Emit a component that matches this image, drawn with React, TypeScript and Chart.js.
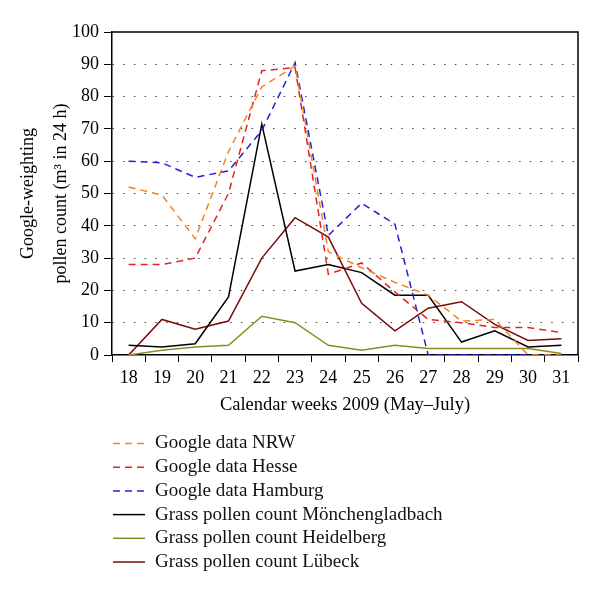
import React, { useEffect, useRef } from 'react';
import { Chart, registerables } from 'chart.js';
Chart.register(...registerables);

const weeks = ['18', '19', '20', '21', '22', '23', '24', '25', '26', '27', '28', '29', '30', '31'];
const googleNRW = [52, 49.5, 36, 63, 83, 89.5, 32, 27, 22.5, 18.5, 10.5, 11, 0, 0];
const googleHesse = [28, 28, 30, 50, 88, 89, 25, 28.5, 19.5, 11, 10, 8.5, 8.5, 7];
const googleHamburg = [60, 59.5, 55, 57, 69.5, 90.5, 37, 47, 40.5, 0, 0, 0, 0, 0];
const grassMoenchengladbach = [3, 2.5, 3.5, 18, 71.5, 26, 28, 25.5, 18.5, 18.5, 4, 7.5, 2.5, 3];
const grassHeidelberg = [0, 1.5, 2.5, 3, 12, 10, 3, 1.5, 3, 2, 2, 2, 2, 0.5];
const grassLuebeck = [0, 11, 8, 10.5, 30, 42.5, 36.5, 16, 7.5, 14.5, 16.5, 9.5, 4.5, 5];

const FONT = "'Liberation Serif', 'Times New Roman', serif";
const DASH = [7, 5];

export default function App() {
  const ref = useRef<HTMLCanvasElement>(null);
  useEffect(() => {
    const mk = (label: string, data: number[], color: string, dashed: boolean) => ({
      label,
      data,
      borderColor: color,
      backgroundColor: color,
      borderWidth: 1.5,
      borderDash: dashed ? DASH : [],
      pointRadius: 0,
      tension: 0,
      fill: false,
    });
    const frame = {
      id: 'frame',
      afterDraw(chart: any) {
        const { ctx, chartArea } = chart;
        ctx.save();
        ctx.strokeStyle = '#000';
        ctx.lineWidth = 1.5;
        ctx.beginPath();
        ctx.moveTo(chartArea.left, chartArea.top);
        ctx.lineTo(chartArea.right, chartArea.top);
        ctx.lineTo(chartArea.right, chartArea.bottom);
        ctx.stroke();
        // legend
        const datasets = chart.data.datasets;
        ctx.font = `19px ${FONT}`;
        ctx.textBaseline = 'middle';
        ctx.textAlign = 'left';
        datasets.forEach((ds: any, i: number) => {
          const y = 443.5 + i * 23.7;
          ctx.save();
          ctx.strokeStyle = ds.borderColor;
          ctx.lineWidth = 1.5;
          ctx.setLineDash(ds.borderDash || []);
          ctx.beginPath();
          ctx.moveTo(113, y);
          ctx.lineTo(145, y);
          ctx.stroke();
          ctx.restore();
          ctx.fillStyle = '#111';
          ctx.fillText(ds.label, 155, y);
        });
        ctx.restore();
      },
    };
    const chart = new Chart(ref.current!, {
      type: 'line',
      data: {
        labels: weeks,
        datasets: [
          mk('Google data NRW', googleNRW, '#F5821F', true),
          mk('Google data Hesse', googleHesse, '#E52222', true),
          mk('Google data Hamburg', googleHamburg, '#2222D2', true),
          mk('Grass pollen count Mönchengladbach', grassMoenchengladbach, '#000000', false),
          mk('Grass pollen count Heidelberg', grassHeidelberg, '#8C8C1E', false),
          mk('Grass pollen count Lübeck', grassLuebeck, '#7A0A0A', false),
        ] as any,
      },
      options: {
        responsive: false,
        animation: false,
        layout: { padding: { top: 32, right: 22, bottom: 175, left: 0 } },
        plugins: { legend: { display: false }, tooltip: { enabled: false } },
        scales: {
          x: {
            offset: true,
            afterFit: (s: any) => { s.height = 66; },
            grid: { offset: true, drawOnChartArea: false, tickLength: 7, tickColor: '#000', tickWidth: 1 },
            border: { display: true, color: '#000', width: 1.5 },
            ticks: { color: '#000', font: { family: FONT, size: 18 }, padding: 5, maxRotation: 0, autoSkip: false },
            title: {
              display: true,
              text: 'Calendar weeks 2009 (May–July)',
              color: '#000',
              font: { family: FONT, size: 18.5 },
              padding: { top: 0, bottom: 5 },
            },
          },
          y: {
            min: 0,
            max: 100,
            afterFit: (s: any) => { s.width = 112; },
            grid: {
              color: (c: any) => (c.tick && (c.tick.value === 0 || c.tick.value === 100) ? 'rgba(0,0,0,0)' : '#444'),
              lineWidth: 1,
              tickLength: 8,
              tickColor: '#000',
              tickWidth: 1,
              tickBorderDash: [],
            },
            border: { display: true, color: '#000', width: 1.5, dash: [1.5, 9.2] },
            ticks: { stepSize: 10, color: '#000', font: { family: FONT, size: 18 }, padding: 5 },
            title: {
              display: true,
              text: ['Google-weighting', 'pollen count (m³ in 24 h)'],
              color: '#000',
              font: { family: FONT, size: 18, lineHeight: 1.83 },
              padding: { top: 12, bottom: 0 },
            },
          },
        },
      } as any,
      plugins: [frame],
    });
    return () => chart.destroy();
  }, []);
  return (
    <div style={{ position: 'fixed', left: 0, top: 0, width: 600, height: 596, background: '#fff' }}>
      <canvas ref={ref} width={600} height={596} style={{ display: 'block', width: 600, height: 596 }} />
    </div>
  );
}
